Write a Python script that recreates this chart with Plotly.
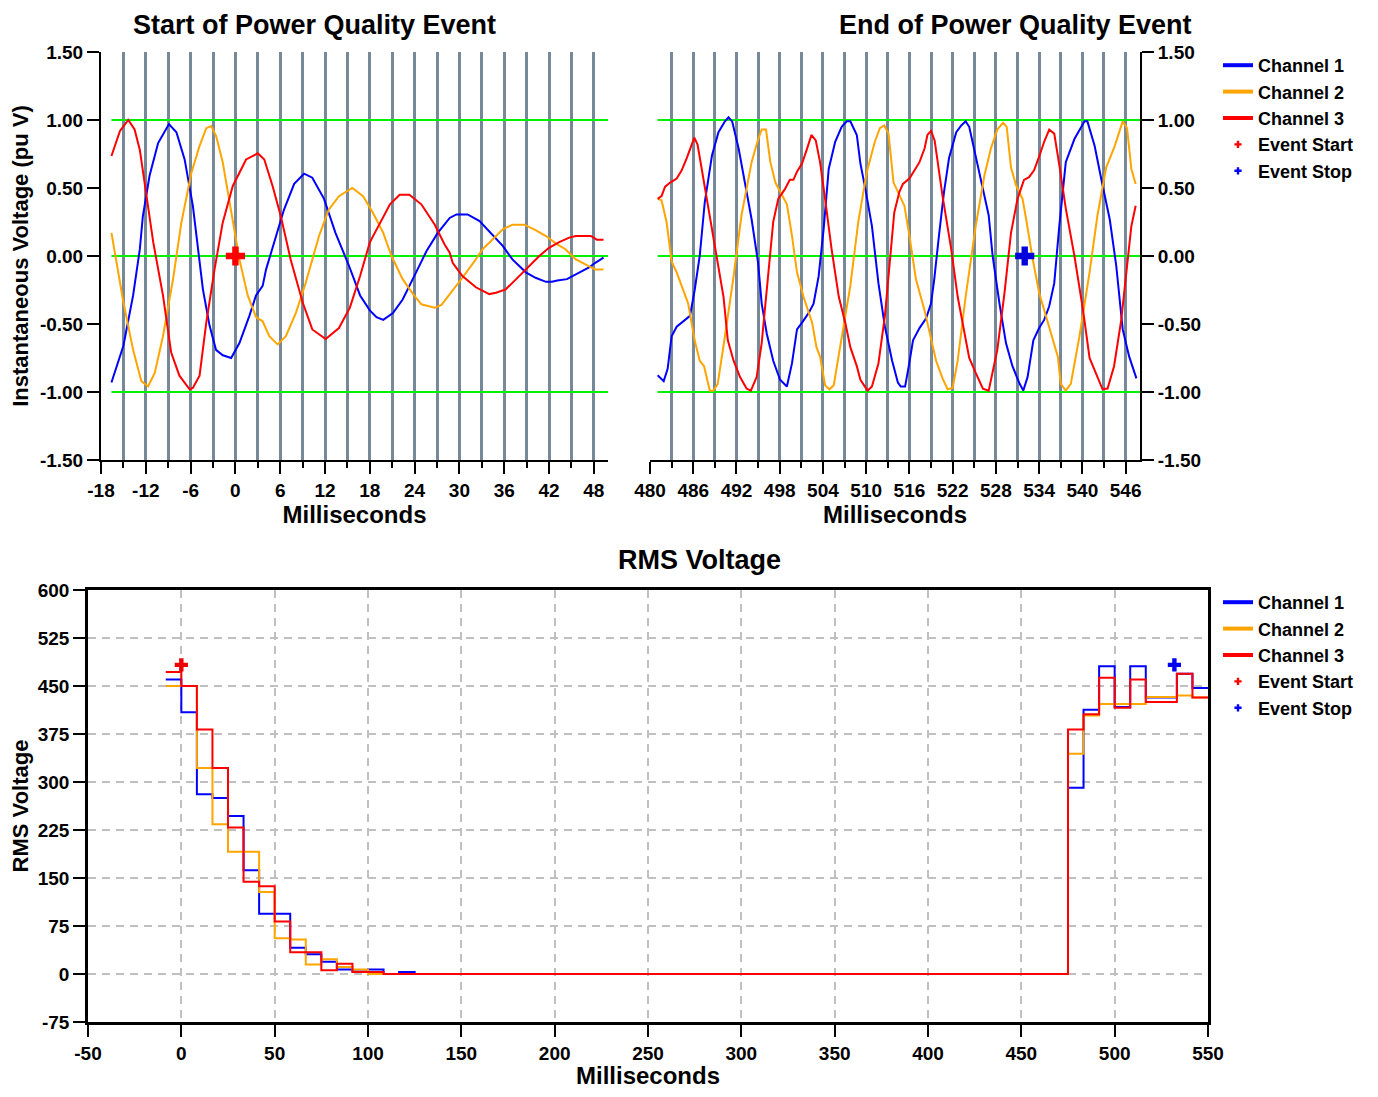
import plotly.graph_objects as go

# page is rendered with an 8px body margin; figure fills the rest of the 1378x1097 window
PAGE_W, PAGE_H, OFF = 1378, 1097, 8
W, H = PAGE_W - 2 * OFF, PAGE_H - 2 * OFF

def fx(px):
    return (px - OFF) / W

def fy(py):
    return 1 - (py - OFF) / H

# ---------------- Data: start of event (instantaneous, pu V) ----------------
start_ch1_t = [-16.6, -15.0, -13.7, -12.8, -12.4, -11.5, -10.35, -8.9, -7.9, -6.8, -5.7, -4.35, -3.47, -2.6,
               -1.69, -0.57, 0.54, 1.87, 2.76, 3.65, 4.1, 5.4, 6.5, 7.87, 9.2, 10.3, 11.87, 13.4, 15.2,
               16.7, 18.0, 18.9, 19.8, 21.1, 22.4, 24.2, 25.6, 27.1, 28.7, 29.6, 31.1, 32.7, 34.4, 35.8,
               37.1, 38.9, 40.2, 41.6, 42.4, 43.1, 44.4, 45.6, 47.3, 48.2, 49.3]
start_ch1_v = [-0.93, -0.66, -0.29, 0.05, 0.29, 0.59, 0.83, 0.97, 0.91, 0.71, 0.37, -0.245, -0.51, -0.69,
               -0.73, -0.75, -0.64, -0.44, -0.29, -0.22, -0.10, 0.147, 0.34, 0.53, 0.605, 0.576, 0.42, 0.17, -0.07,
               -0.29, -0.40, -0.45, -0.47, -0.42, -0.32, -0.12, 0.037, 0.17, 0.28, 0.306, 0.306, 0.257, 0.16, 0.074,
               -0.025, -0.12, -0.16, -0.19, -0.19, -0.18, -0.17, -0.135, -0.086, -0.05, -0.012]

start_ch2_t = [-16.6, -15.0, -13.7, -12.6, -11.7, -10.8, -9.7, -8.35, -7.24, -5.9, -4.8, -3.9, -3.24, -2.57,
               -1.7, -0.57, 0.54, 1.65, 2.76, 3.65, 4.54, 5.65, 6.76, 8.09, 9.4, 11.2, 12.5, 13.87, 15.65,
               17.1, 18.4, 19.8, 20.9, 22.4, 23.8, 24.9, 26.7, 27.6, 28.9, 30.4, 32.0, 33.1, 34.4, 35.8,
               37.1, 38.7, 40.2, 41.6, 42.9, 44.2, 45.6, 46.9, 48.2, 49.3]
start_ch2_v = [0.17, -0.34, -0.69, -0.92, -0.96, -0.86, -0.59, -0.17, 0.245, 0.61, 0.81, 0.94, 0.955, 0.88,
               0.69, 0.32, -0.025, -0.29, -0.45, -0.48, -0.59, -0.65, -0.59, -0.42, -0.20, 0.147, 0.34, 0.44, 0.50,
               0.44, 0.32, 0.17, 0.0, -0.17, -0.28, -0.355, -0.38, -0.36, -0.27, -0.16, -0.04, 0.05, 0.12, 0.196,
               0.23, 0.23, 0.19, 0.147, 0.093, 0.05, -0.025, -0.06, -0.10, -0.10]

start_ch3_t = [-16.6, -15.46, -14.35, -13.5, -12.8, -12.0, -11.0, -9.7, -8.6, -7.5, -6.13, -5.7, -4.8, -3.9,
               -2.8, -1.7, -0.35, 1.43, 3.0, 3.87, 4.98, 6.09, 7.4, 9.0, 10.3, 12.09, 13.87, 15.33,
               16.7, 18.0, 19.8, 20.7, 22.0, 23.3, 24.9, 26.7, 28.0, 28.7, 29.1, 30.4, 32.2, 34.0, 34.9,
               36.2, 37.6, 38.9, 40.7, 42.0, 43.3, 44.7, 45.6, 47.6, 48.4, 49.3]
start_ch3_v = [0.735, 0.92, 1.0, 0.93, 0.78, 0.47, 0.10, -0.29, -0.71, -0.88, -0.98, -0.97, -0.88, -0.49,
               -0.10, 0.245, 0.515, 0.71, 0.755, 0.71, 0.515, 0.29, -0.025, -0.34, -0.54, -0.61, -0.53, -0.38,
               -0.147, 0.10, 0.29, 0.38, 0.45, 0.45, 0.38, 0.23, 0.086, 0.025, -0.05, -0.147, -0.23, -0.28, -0.27,
               -0.245, -0.17, -0.10, 0.0, 0.06, 0.10, 0.135, 0.147, 0.147, 0.12, 0.12]

# ---------------- Data: end of event ----------------
end_ch1_t = [481.06, 481.9, 482.45, 483.0, 483.7, 484.9, 485.55, 486.2, 486.9, 487.6, 488.6, 489.5, 490.4,
             490.9, 491.4, 492.3, 493.2, 494.1, 495.0, 495.5, 496.2, 497.1, 498.05, 499.0, 499.7, 500.4,
             501.1, 502.0, 502.7, 503.4, 504.1, 504.8, 505.7, 506.6, 507.3, 507.8, 508.7, 509.2, 509.9,
             510.8, 511.7, 512.6, 513.6, 514.4, 514.8, 515.4, 515.98, 516.5, 517.4, 518.3, 519.0, 519.45,
             520.1, 520.8, 521.5, 522.5, 523.2, 523.8, 524.3, 525.2, 526.2, 527.0, 527.55, 528.5, 529.4,
             530.3, 531.3, 531.8, 532.4, 533.2, 534.0, 534.7, 535.4, 536.1, 536.8, 537.7, 538.9, 540.3,
             540.7, 541.7, 542.8, 543.8, 544.7, 545.6, 546.5, 547.5]
end_ch1_v = [-0.877, -0.92, -0.83, -0.59, -0.52, -0.47, -0.44, -0.25, 0.0, 0.395, 0.74, 0.91, 0.99,
             1.02, 0.99, 0.79, 0.52, 0.27, -0.05, -0.35, -0.57, -0.77, -0.91, -0.96, -0.79, -0.54,
             -0.49, -0.42, -0.35, -0.15, 0.20, 0.64, 0.84, 0.95, 0.99, 0.99, 0.89, 0.68, 0.49,
             0.22, -0.20, -0.52, -0.77, -0.93, -0.96, -0.96, -0.79, -0.62, -0.53, -0.46, -0.35, -0.17,
             0.15, 0.47, 0.72, 0.91, 0.96, 0.99, 0.95, 0.74, 0.49, 0.30, 0.0, -0.35, -0.64,
             -0.81, -0.94, -0.99, -0.89, -0.62, -0.53, -0.47, -0.37, -0.20, 0.22, 0.69, 0.86, 0.99,
             0.99, 0.81, 0.52, 0.27, -0.07, -0.54, -0.74, -0.90]

end_ch2_t = [481.06, 481.6, 482.3, 483.0, 483.7, 484.6, 485.3, 486.2, 486.9, 487.5, 488.3, 488.8, 489.4,
             490.4, 491.6, 492.7, 494.1, 494.9, 495.5, 496.1, 496.7, 497.4, 498.05, 499.0, 499.7, 500.4,
             501.3, 502.5, 503.1, 503.6, 504.3, 504.9, 505.5, 506.6, 507.8, 508.9, 510.1, 511.2, 511.9,
             512.5, 513.1, 513.8, 514.4, 515.3, 516.0, 516.9, 518.1, 519.0, 519.7, 520.6, 521.3, 522.0,
             522.7, 523.8, 525.2, 526.4, 527.3, 528.2, 529.0, 529.5, 530.1, 530.8, 531.7, 532.2, 533.1,
             534.0, 535.2, 535.9, 536.6, 537.0, 537.7, 538.4, 539.6, 541.0, 542.1, 543.3, 544.5, 545.6,
             546.2, 546.8, 547.4]
end_ch2_v = [0.42, 0.41, 0.25, -0.04, -0.12, -0.25, -0.35, -0.62, -0.77, -0.81, -0.99, -0.99, -0.94,
             -0.59, -0.15, 0.30, 0.69, 0.84, 0.93, 0.93, 0.69, 0.54, 0.47, 0.38, 0.15, -0.12,
             -0.30, -0.49, -0.67, -0.74, -0.95, -0.98, -0.95, -0.59, -0.22, 0.25, 0.62, 0.84, 0.94,
             0.96, 0.90, 0.54, 0.47, 0.37, 0.15, -0.17, -0.40, -0.62, -0.77, -0.90, -0.98, -0.97,
             -0.77, -0.30, 0.22, 0.59, 0.79, 0.93, 0.98, 0.95, 0.65, 0.52, 0.42, 0.27, -0.02,
             -0.27, -0.49, -0.62, -0.74, -0.94, -0.99, -0.94, -0.59, -0.12, 0.30, 0.65, 0.81, 0.99,
             0.94, 0.64, 0.53]

end_ch3_t = [481.06, 481.6, 482.1, 482.8, 483.7, 484.4, 485.1, 485.55, 486.15, 486.6, 487.4, 488.3, 489.25,
             490.2, 490.8, 491.6, 492.5, 493.4, 494.0, 494.8, 495.5, 496.0, 496.7, 497.1, 497.8, 498.7,
             499.4, 499.9, 500.4, 501.1, 501.8, 502.4, 503.0, 503.6, 504.3, 505.2, 506.2, 507.1, 507.8,
             508.7, 509.2, 510.2, 510.8, 511.7, 512.6, 513.3, 513.9, 514.6, 515.1, 516.0, 516.7, 517.4,
             518.1, 518.5, 519.0, 519.5, 520.6, 521.8, 522.7, 523.6, 524.3, 525.2, 526.2, 527.0, 527.55,
             528.2, 529.2, 530.1, 531.0, 531.9, 532.6, 533.3, 534.0, 534.7, 535.4, 536.1, 536.8, 537.7,
             538.9, 540.1, 541.0, 542.1, 542.8, 543.5, 544.4, 545.4, 546.3, 546.8, 547.4]
end_ch3_v = [0.42, 0.44, 0.51, 0.54, 0.57, 0.63, 0.72, 0.79, 0.87, 0.82, 0.57, 0.30, 0.0,
             -0.30, -0.62, -0.77, -0.89, -0.975, -0.99, -0.89, -0.64, -0.35, 0.0, 0.25, 0.42, 0.49,
             0.56, 0.56, 0.62, 0.68, 0.79, 0.89, 0.85, 0.69, 0.42, 0.05, -0.30, -0.49, -0.67,
             -0.81, -0.91, -0.99, -0.96, -0.79, -0.44, -0.05, 0.32, 0.47, 0.53, 0.57, 0.63, 0.69,
             0.79, 0.89, 0.92, 0.85, 0.44, 0.05, -0.30, -0.57, -0.75, -0.86, -0.975, -0.99, -0.86,
             -0.69, -0.27, 0.17, 0.42, 0.56, 0.58, 0.63, 0.73, 0.84, 0.93, 0.90, 0.67, 0.35,
             0.0, -0.40, -0.75, -0.89, -0.98, -0.975, -0.81, -0.47, -0.05, 0.22, 0.37]

# reference levels (pu)
ref_levels = [-1.0, 0.0, 1.0]

# event markers
event_start_ms = [0.0]
event_stop_ms = [532.0]
event_wave_v = [0.0]
event_rms_v = [483.0]

# ---------------- Data: RMS voltage (half-cycle steps) ----------------
rms_t = [-8.33, 0.0, 8.33, 16.67, 25.0, 33.33, 41.67, 50.0, 58.33, 66.67, 75.0, 83.33, 91.67, 100.0,
         108.33, 116.67, 125.0, 475.0, 483.33, 491.67, 500.0, 508.33, 516.67, 525.0, 533.33, 541.67, 550.0]
rms_ch1 = [460, 409, 281, 275, 247, 162, 94, 94, 41, 31, 19, 7, 4, 7,
           0, 3, 0, 291, 413, 481, 417, 481, 432, 432, 469, 447, 447]
rms_ch2 = [450, 450, 322, 234, 191, 191, 128, 56, 54, 15, 23, 11, 7, 0,
           0, 0, 0, 344, 404, 422, 422, 422, 433, 433, 435, 432, 432]
rms_ch3 = [472, 450, 382, 322, 229, 144, 137, 82, 34, 34, 6, 16, 3, 3,
           0, 0, 0, 382, 406, 463, 416, 460, 425, 425, 469, 432, 432]

# ---------------- Tick labels ----------------
x1_tickvals = [-18, -12, -6, 0, 6, 12, 18, 24, 30, 36, 42, 48]
x1_ticktext = ["-18", "-12", "-6", "0", "6", "12", "18", "24", "30", "36", "42", "48"]
x2_tickvals = [480, 486, 492, 498, 504, 510, 516, 522, 528, 534, 540, 546]
x2_ticktext = ["480", "486", "492", "498", "504", "510", "516", "522", "528", "534", "540", "546"]
wave_y_tickvals = [-1.5, -1.0, -0.5, 0.0, 0.5, 1.0, 1.5]
wave_y_ticktext = ["-1.50", "-1.00", "-0.50", "0.00", "0.50", "1.00", "1.50"]
rms_x_tickvals = [-50, 0, 50, 100, 150, 200, 250, 300, 350, 400, 450, 500, 550]
rms_x_ticktext = ["-50", "0", "50", "100", "150", "200", "250", "300", "350", "400", "450", "500", "550"]
rms_y_tickvals = [-75, 0, 75, 150, 225, 300, 375, 450, 525, 600]
rms_y_ticktext = ["-75", "0", "75", "150", "225", "300", "375", "450", "525", "600"]

# axis ranges
x1_range = [-18, 49.9]
x2_range = [480, 548]
x3_range = [-50, 550]

names = ["Channel 1", "Channel 2", "Channel 3"]
colors = ["#0000ff", "#ffa500", "#ff0000"]

FONT = "Liberation Sans, Arial, sans-serif"

fig = go.Figure()

# green reference lines
for xa, ya, t0, xr in [("x", "y", start_ch1_t[0], x1_range[1]), ("x2", "y2", end_ch1_t[0], x2_range[1])]:
    for lv in ref_levels:
        fig.add_trace(go.Scatter(x=[t0, xr], y=[lv, lv], mode="lines", xaxis=xa, yaxis=ya,
                                 line=dict(color="#00f000", width=2), showlegend=False, hoverinfo="skip"))

# waveforms
for (t, v), c in zip([(start_ch1_t, start_ch1_v), (start_ch2_t, start_ch2_v), (start_ch3_t, start_ch3_v)], colors):
    fig.add_trace(go.Scatter(x=t, y=v, mode="lines", xaxis="x", yaxis="y",
                             line=dict(color=c, width=2), showlegend=False))
for (t, v), c in zip([(end_ch1_t, end_ch1_v), (end_ch2_t, end_ch2_v), (end_ch3_t, end_ch3_v)], colors):
    fig.add_trace(go.Scatter(x=t, y=v, mode="lines", xaxis="x2", yaxis="y2",
                             line=dict(color=c, width=2), showlegend=False))

fig.add_trace(go.Scatter(x=event_start_ms, y=event_wave_v, mode="markers", xaxis="x", yaxis="y",
                         marker=dict(symbol="cross", size=16, color="#ff0000"), showlegend=False))
fig.add_trace(go.Scatter(x=event_stop_ms, y=event_wave_v, mode="markers", xaxis="x2", yaxis="y2",
                         marker=dict(symbol="cross", size=16, color="#0000dd"), showlegend=False))

# RMS steps
for v, c in zip([rms_ch1, rms_ch2, rms_ch3], colors):
    fig.add_trace(go.Scatter(x=rms_t, y=v, mode="lines", xaxis="x3", yaxis="y3", line_shape="hv",
                             line=dict(color=c, width=2), showlegend=False))
fig.add_trace(go.Scatter(x=event_start_ms, y=event_rms_v, mode="markers", xaxis="x3", yaxis="y3",
                         marker=dict(symbol="cross", size=11, color="#ee0000"), showlegend=False))
fig.add_trace(go.Scatter(x=event_stop_ms, y=event_rms_v, mode="markers", xaxis="x3", yaxis="y3",
                         marker=dict(symbol="cross", size=11, color="#0000ee"), showlegend=False))

# legend entries (two legends)
for lg, xa, ya in [("legend", "x", "y"), ("legend2", "x3", "y3")]:
    for n, c in zip(names, colors):
        fig.add_trace(go.Scatter(x=[None], y=[None], mode="lines", name=n, legend=lg, xaxis=xa, yaxis=ya,
                                 line=dict(color=c, width=4)))
    fig.add_trace(go.Scatter(x=[None], y=[None], mode="markers", name="Event Start", legend=lg, xaxis=xa, yaxis=ya,
                             marker=dict(symbol="cross", size=6, color="#ff0000")))
    fig.add_trace(go.Scatter(x=[None], y=[None], mode="markers", name="Event Stop", legend=lg, xaxis=xa, yaxis=ya,
                             marker=dict(symbol="cross", size=6, color="#0000ff")))

tickfont = dict(family=FONT, size=19, color="black", weight="bold")
titlefont = dict(family=FONT, size=24, color="black", weight="bold")
ytitlefont = dict(family=FONT, size=22, color="black", weight="bold")
headfont = dict(family=FONT, size=27, color="black", weight="bold")

def wave_x(domain, rng, tick0, tv, tt):
    return dict(domain=domain, range=rng, tickmode="array", tickvals=tv, ticktext=tt,
                showgrid=True, gridcolor="#778899", automargin=False,
                gridwidth=2.5, zeroline=False, showline=True, linecolor="black", linewidth=2,
                ticks="outside", ticklen=12, tickwidth=2, tickcolor="black", tickfont=tickfont,
                minor=dict(tickmode="linear", dtick=3, tick0=tick0, showgrid=True, gridcolor="#778899",
                           gridwidth=2.5, ticks="outside", ticklen=6, tickwidth=2, tickcolor="black"),
                title=dict(text="Milliseconds", font=titlefont, standoff=6))

def wave_y(domain, side):
    return dict(domain=domain, range=[-1.5, 1.5], tickmode="array", tickvals=wave_y_tickvals,
                ticktext=wave_y_ticktext, showgrid=False, automargin=False,
                zeroline=False, showline=True, linecolor="black", linewidth=2, side=side,
                ticks="outside", ticklen=12, tickwidth=2, tickcolor="black", tickfont=tickfont)

ytop = [fy(460), fy(52)]
ybot = [fy(1022), fy(590)]
legend_font = dict(family=FONT, size=18, color="black", weight="bold")

fig.update_layout(
    width=W, height=H, margin=dict(l=0, r=0, t=0, b=0, autoexpand=False),
    paper_bgcolor="white", plot_bgcolor="white",
    font=dict(family=FONT, color="black"),
    xaxis=dict(**wave_x([fx(101), fx(608)], x1_range, -18, x1_tickvals, x1_ticktext), anchor="y"),
    yaxis=dict(**wave_y(ytop, "left"), anchor="x",
               title=dict(text="Instantaneous Voltage (pu V)", font=ytitlefont, standoff=6)),
    xaxis2=dict(**wave_x([fx(650), fx(1140)], x2_range, 480, x2_tickvals, x2_ticktext), anchor="y2"),
    yaxis2=dict(**wave_y(ytop, "right"), anchor="x2"),
    xaxis3=dict(domain=[fx(88), fx(1208)], range=x3_range, tickmode="array", tickvals=rms_x_tickvals,
                ticktext=rms_x_ticktext, anchor="y3", automargin=False,
                showgrid=True, gridcolor="#c0c0c0", gridwidth=2, griddash="8px,6px", zeroline=False,
                showline=True, mirror=True, linecolor="black", linewidth=2.5,
                ticks="outside", ticklen=12, tickwidth=2, tickcolor="black", tickfont=tickfont,
                title=dict(text="Milliseconds", font=titlefont, standoff=8)),
    yaxis3=dict(domain=ybot, range=[-75, 600], tickmode="array", tickvals=rms_y_tickvals,
                ticktext=rms_y_ticktext, anchor="x3", automargin=False,
                showgrid=True, gridcolor="#c0c0c0", gridwidth=2, griddash="8px,6px", zeroline=False,
                showline=True, mirror=True, linecolor="black", linewidth=2.5,
                ticks="outside", ticklen=12, tickwidth=2, tickcolor="black", tickfont=tickfont,
                title=dict(text="RMS Voltage", font=ytitlefont, standoff=8)),
    legend=dict(x=fx(1218), y=fy(47), xanchor="left", yanchor="top", bgcolor="rgba(0,0,0,0)",
                font=legend_font, itemwidth=30, tracegroupgap=0),
    legend2=dict(x=fx(1218), y=fy(584), xanchor="left", yanchor="top", bgcolor="rgba(0,0,0,0)",
                 font=legend_font, itemwidth=30, tracegroupgap=0),
    annotations=[
        dict(text="Start of Power Quality Event", x=fx(314), y=1.0, xref="paper", yref="paper",
             showarrow=False, xanchor="center", yanchor="top", font=headfont),
        dict(text="End of Power Quality Event", x=fx(1015), y=1.0, xref="paper", yref="paper",
             showarrow=False, xanchor="center", yanchor="top", font=headfont),
        dict(text="RMS Voltage", x=fx(700), y=fy(560), xref="paper", yref="paper",
             showarrow=False, xanchor="center", yanchor="middle", font=headfont),
    ],
)

fig.write_html("out.html")
